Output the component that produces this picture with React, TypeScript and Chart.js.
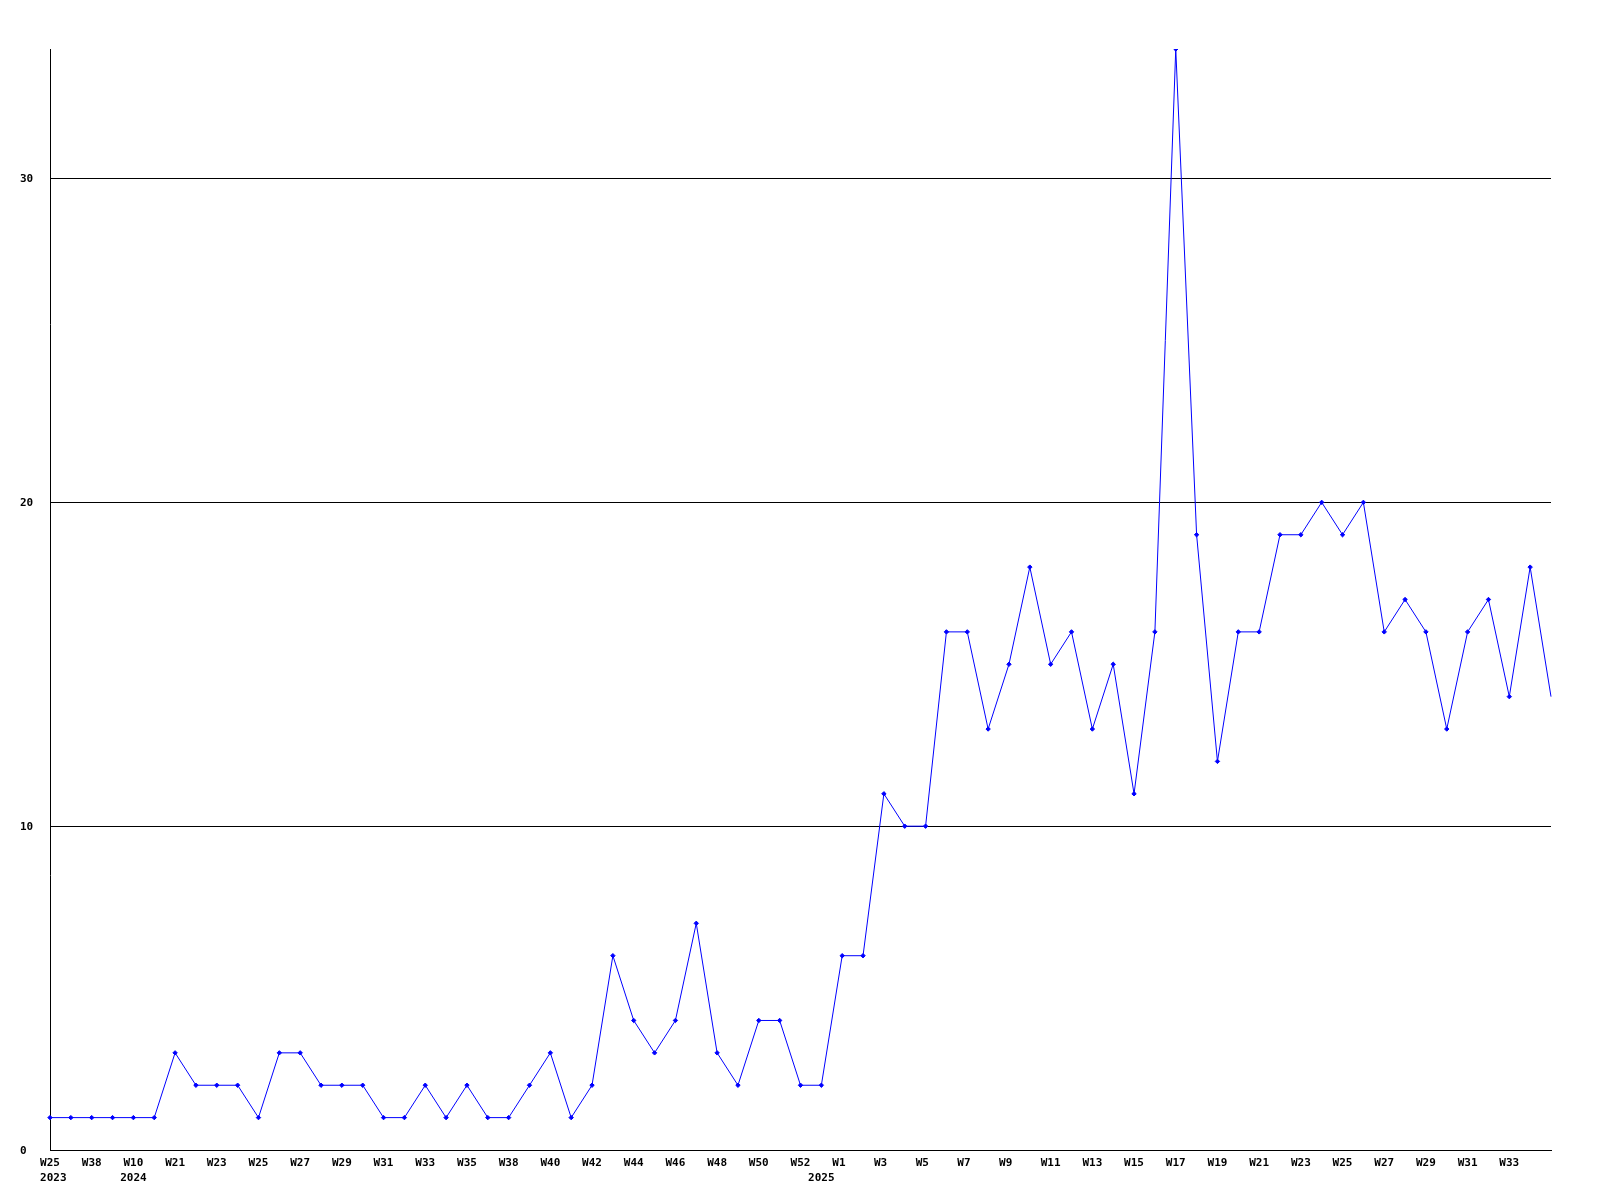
import React, { useEffect, useRef } from "react";
import { Chart, registerables } from "chart.js";

Chart.register(...registerables);

// One entry per data point (week). Only every other week label is shown on the axis.
const weekLabels: string[] = [
  "W25", "W30", "W38", "W45", "W10", "W14",
  "W21", "W22", "W23", "W24", "W25", "W26", "W27", "W28", "W29", "W30",
  "W31", "W32", "W33", "W34", "W35", "W36", "W38", "W39", "W40", "W41",
  "W42", "W43", "W44", "W45", "W46", "W47", "W48", "W49", "W50", "W51",
  "W52", "W0", "W1", "W2", "W3", "W4", "W5", "W6", "W7", "W8",
  "W9", "W10", "W11", "W12", "W13", "W14", "W15", "W16", "W17", "W18",
  "W19", "W20", "W21", "W22", "W23", "W24", "W25", "W26", "W27", "W28",
  "W29", "W30", "W31", "W32", "W33", "W34", "W35",
];

// Year shown under the first point of each year.
const yearLabels: string[] = [
  " 2023", "", "", "", "2024", "",
  "", "", "", "", "", "", "", "", "", "",
  "", "", "", "", "", "", "", "", "", "",
  "", "", "", "", "", "", "", "", "", "",
  "", "2025", "", "", "", "", "", "", "", "",
  "", "", "", "", "", "", "", "", "", "",
  "", "", "", "", "", "", "", "", "", "",
  "", "", "", "", "", "", "",
];

const counts: number[] = [
  1, 1, 1, 1, 1, 1,
  3, 2, 2, 2, 1, 3, 3, 2, 2, 2,
  1, 1, 2, 1, 2, 1, 1, 2, 3, 1,
  2, 6, 4, 3, 4, 7, 3, 2, 4, 4,
  2, 2, 6, 6, 11, 10, 10, 16, 16, 13,
  15, 18, 15, 16, 13, 15, 11, 16, 34, 19,
  12, 16, 16, 19, 19, 20, 19, 20, 16, 17,
  16, 13, 16, 17, 14, 18, 14,
];

const yTickValues: number[] = [0, 10, 20, 30];

const FONT = { family: "'DejaVu Sans Mono', monospace", size: 11, weight: "bold" as const, lineHeight: 1.35 };

function tickLabel(idx: number): string | string[] {
  const last = idx === weekLabels.length - 1;
  let w = idx % 2 === 0 && !last ? weekLabels[idx] : "";
  if (w.length === 2) w = w + " ";
  const y = yearLabels[idx] || "";
  return y ? [w, y] : w;
}

export default function App() {
  const ref = useRef<HTMLCanvasElement | null>(null);

  useEffect(() => {
    if (!ref.current) return;
    const radii = counts.map((_, i) => (i === counts.length - 1 ? 0 : 2.2));
    const chart = new Chart(ref.current, {
      type: "line",
      data: {
        labels: weekLabels,
        datasets: [
          {
            data: counts,
            borderColor: "#0000ff",
            backgroundColor: "#0000ff",
            borderWidth: 1,
            pointStyle: "rectRot",
            pointRadius: radii,
            pointBorderWidth: 1,
            tension: 0,
            fill: false,
          },
        ],
      },
      options: {
        animation: false,
        responsive: false,
        devicePixelRatio: 1,
        layout: { padding: { left: 20, top: 49, right: 49, bottom: 0 } },
        plugins: { legend: { display: false }, tooltip: { enabled: false } },
        scales: {
          x: {
            type: "category",
            offset: false,
            grid: { display: false, drawTicks: false },
            border: { display: true, color: "#000", width: 1 },
            ticks: {
              autoSkip: false,
              maxRotation: 0,
              minRotation: 0,
              padding: 6,
              color: "#000",
              font: FONT,
              callback: (_v: any, idx: number) => tickLabel(idx) as any,
            },
            afterFit: (s: any) => {
              s.height = 50;
            },
          },
          y: {
            min: 0,
            max: 34,
            grid: { display: true, color: "#000", lineWidth: 1, drawTicks: false },
            border: { display: true, color: "#000", width: 1 },
            ticks: {
              stepSize: 10,
              crossAlign: "far",
              padding: 17,
              labelOffset: 1,
              color: "#000",
              font: FONT,
            },
            afterBuildTicks: (s: any) => {
              s.ticks = yTickValues.map((v) => ({ value: v }));
            },
            afterFit: (s: any) => {
              s.width = 30;
            },
          },
        },
      },
    });
    return () => chart.destroy();
  }, []);

  return (
    <div style={{ position: "absolute", left: 0, top: 0, width: 1600, height: 1200, background: "#fff" }}>
      <canvas ref={ref} width={1600} height={1200} style={{ width: 1600, height: 1200 }} />
    </div>
  );
}
